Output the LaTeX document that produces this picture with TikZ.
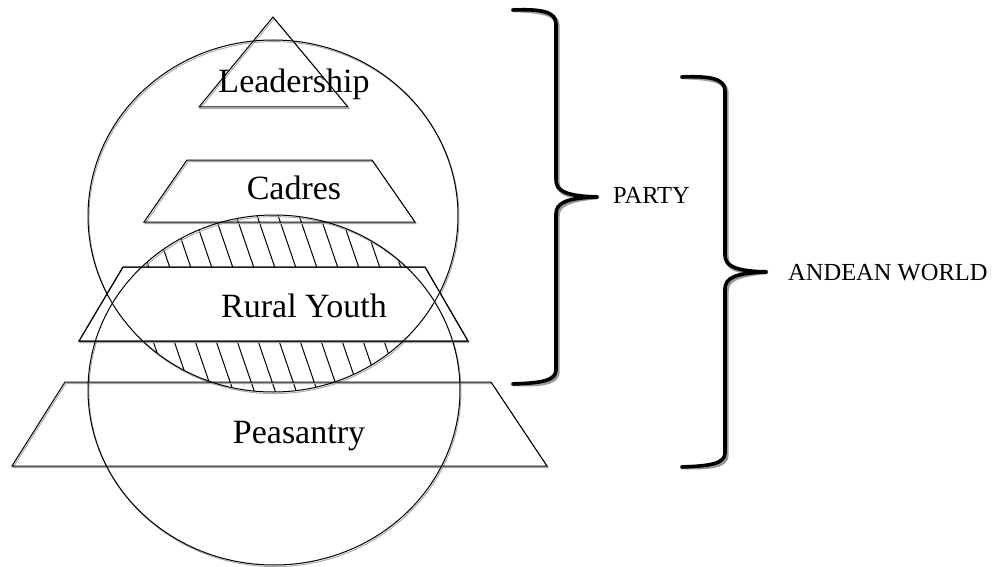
\documentclass[tikz,border=0pt]{standalone}
\usepackage{fontspec}
\setmainfont{Liberation Serif}
\begin{document}
\begin{tikzpicture}[x=1pt,y=-1pt,
  thinline/.style={draw=black,line width=1pt,line join=miter},
  shade/.style={draw=black!35,line width=0.9pt,shift={(1,1.6)}},
  bracefront/.style={draw=black,line width=3.6pt,line cap=round,line join=round},
  braceshade/.style={draw=black!40,line width=4.4pt,line cap=round,line join=round,shift={(1.5,2)}},
  big/.style={font=\fontsize{34}{40}\selectfont,inner sep=0pt,anchor=base},
  small/.style={font=\fontsize{24.5}{28}\selectfont,inner sep=0pt,anchor=base west}]
\useasboundingbox (0,0) rectangle (993,567);
\fill[white] (0,0) rectangle (993,567);

% hatched lens (intersection of the two circles)
\begin{scope}
  \clip (273,216) ellipse [x radius=185pt, y radius=176pt];
  \clip (274,390) ellipse [x radius=186pt, y radius=175pt];
  \foreach \x in {40,61,...,520}
    \draw[black,line width=1pt] (\x,195) -- (\x+72,405);
\end{scope}

% shadows
\path[shade] (273,17) -- (348,107) -- (199,107) -- cycle;
\path[shade] (187,160) -- (372,160) -- (415,222) -- (144,222) -- cycle;
\path[shade] (123,267) -- (425,267) -- (468,341) -- (79,341) -- cycle;
\path[shade] (65,382) -- (491,382) -- (547,466) -- (12,466) -- cycle;
\path[shade] (273,216) ellipse [x radius=185pt, y radius=176pt];
\path[shade] (274,390) ellipse [x radius=186pt, y radius=175pt];

% Rural Youth band hides the hatching
\path[thinline,fill=white] (123,267) -- (425,267) -- (468,341) -- (79,341) -- cycle;

% circles
\path[thinline] (273,216) ellipse [x radius=185pt, y radius=176pt];
\path[thinline] (274,390) ellipse [x radius=186pt, y radius=175pt];

% pyramid layers
\path[thinline] (273,17) -- (348,107) -- (199,107) -- cycle;
\path[thinline] (187,160) -- (372,160) -- (415,222) -- (144,222) -- cycle;
\path[thinline] (123,267) -- (425,267) -- (468,341) -- (79,341) -- cycle;
\path[thinline] (65,382) -- (491,382) -- (547,466) -- (12,466) -- cycle;

% labels
\node[big] (lead) at (294,93) {Leadership};
\node[big] (cadr) at (294,199) {Cadres};
\node[big] (ruth) at (304,317) {Rural Youth};
\node[big] (peas) at (299,443) {Peasantry};

% PARTY brace
\coordinate (pt) at (597,197);
\coordinate (pa) at (513,10);
\coordinate (pb) at (513,384);
\foreach \s in {braceshade,bracefront}{
\path[\s] (pa) .. controls (540,9) and (556,11) .. (556,24) -- (556,180)
  .. controls (556,191) and (566,196) .. (pt);
\path[\s] (pt) .. controls (566,198) and (556,203) .. (556,214) -- (556,370)
  .. controls (556,381) and (540,383) .. (pb);
}
\node[small] (party) at (613,203) {PARTY};

% ANDEAN WORLD brace
\coordinate (at) at (766,272);
\coordinate (aa) at (682,77);
\coordinate (ab) at (682,467);
\foreach \s in {braceshade,bracefront}{
\path[\s] (aa) .. controls (709,76) and (725,78) .. (725,91) -- (725,255)
  .. controls (725,266) and (735,271) .. (at);
\path[\s] (at) .. controls (735,273) and (725,278) .. (725,289) -- (725,453)
  .. controls (725,464) and (709,466) .. (ab);
}
\node[small] (andean) at (788,280) {ANDEAN WORLD};
\end{tikzpicture}
\end{document}
